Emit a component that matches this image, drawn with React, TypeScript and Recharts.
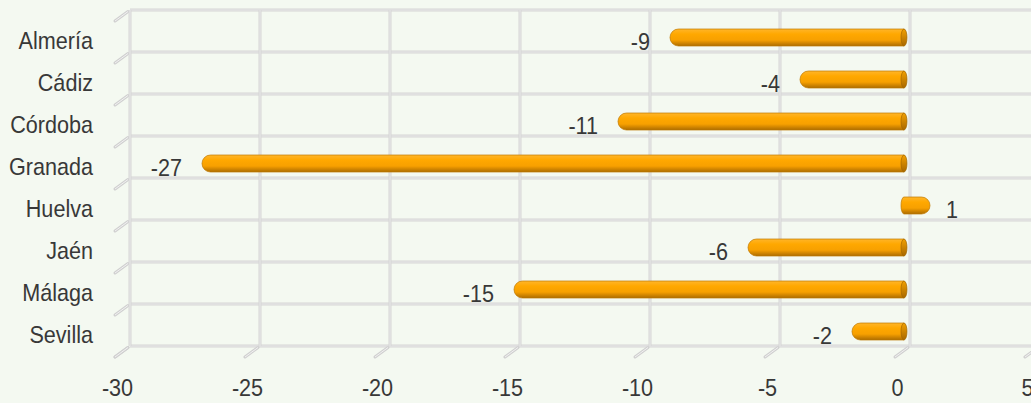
import React from 'react';
import { BarChart, Bar, XAxis, YAxis, CartesianGrid, LabelList } from 'recharts';

const categories = ['Almería', 'Cádiz', 'Córdoba', 'Granada', 'Huelva', 'Jaén', 'Málaga', 'Sevilla'];
const values = [-9, -4, -11, -27, 1, -6, -15, -2];
const xTicks = [-30, -25, -20, -15, -10, -5, 0, 5];

const data = categories.map((name, i) => ({ name, value: values[i] }));

const FONT = '"Liberation Sans", Arial, Helvetica, sans-serif';
const TEXT = '#383838';
const FONT_SIZE = 24;
const SCALE_X = 0.9;
const BAR_H = 17;
const DX = -6;
const DY = 6;

const Label = ({ x, y, anchor, children }: any) => (
  <g transform={`translate(${x},${y}) scale(${SCALE_X},1)`}>
    <text x={0} y={0} textAnchor={anchor} fill={TEXT} fontFamily={FONT} fontSize={FONT_SIZE}>
      {children}
    </text>
  </g>
);

const BarShape = (props: any) => {
  const { x, y, width, height, payload } = props;
  const v = payload?.value ?? 0;
  const r = BAR_H / 2;
  const cap = 3;
  const cy = y + height / 2 + DY;
  const top = cy - r;
  const bot = cy + r;
  const x0 = Math.min(x, x + width) + DX;
  const x1 = Math.max(x, x + width) + DX;
  if (v < 0) {
    const d = `M ${x1} ${top} L ${x0 + r} ${top} A ${r} ${r} 0 0 0 ${x0 + r} ${bot} L ${x1} ${bot} Z`;
    return (
      <g>
        <path d={d} fill="url(#barGrad)" stroke="#bf7800" strokeWidth={0.7} />
        <ellipse cx={x1} cy={cy} rx={cap} ry={r} fill="url(#faceGrad)" stroke="#a06500" strokeWidth={0.7} />
      </g>
    );
  }
  const d = `M ${x0} ${top} L ${x1 - r} ${top} A ${r} ${r} 0 0 1 ${x1 - r} ${bot} L ${x0} ${bot} A ${cap} ${r} 0 0 1 ${x0} ${top} Z`;
  return (
    <g>
      <path d={d} fill="url(#barGrad)" stroke="#bf7800" strokeWidth={0.7} />
    </g>
  );
};

const ValueLabel = (props: any) => {
  const { x, y, width, height, value } = props;
  const v = Number(value);
  const vx = v < 0 ? Math.min(x, x + width) : Math.max(x, x + width);
  const cy = y + height / 2;
  return (
    <Label x={v < 0 ? vx - 26 : vx + 10} y={cy + 18} anchor={v < 0 ? 'end' : 'start'}>
      {v}
    </Label>
  );
};

const YTick = (props: any) => {
  const { x, y, payload } = props;
  return (
    <Label x={x - 37} y={y + 18} anchor="end">
      {payload.value}
    </Label>
  );
};

const XTick = (props: any) => {
  const { x, y, payload } = props;
  return (
    <Label x={x - 12.5} y={y + 50} anchor="middle">
      {payload.value}
    </Label>
  );
};

const gridLine = (x1: number, y1: number, x2: number, y2: number) => (
  <>
    <line x1={x1} y1={y1} x2={x2} y2={y2} stroke="#d6d6d6" strokeWidth={3} />
    <line x1={x1} y1={y1} x2={x2} y2={y2} stroke="#e9e9e9" strokeWidth={1} />
  </>
);

const diag = (gx: number, gy: number) => (
  <>
    <line x1={gx - 15} y1={gy + 11} x2={gx - 2} y2={gy + 1.5} stroke="#d0d0d0" strokeWidth={3} strokeLinecap="round" />
    <line x1={gx - 15} y1={gy + 11} x2={gx - 2} y2={gy + 1.5} stroke="#f2f2f2" strokeWidth={1} />
  </>
);

const HLine = (p: any) => (
  <g key={`h-${p.index ?? p.y1}`}>
    {gridLine(p.x1, p.y1, p.x2, p.y2)}
    {diag(p.x1, p.y1)}
  </g>
);

const VLine = (p: any) => (
  <g key={`v-${p.index ?? p.x1}`}>
    {gridLine(p.x1, p.y1, p.x2, p.y2)}
    {diag(p.x1, Math.max(p.y1, p.y2))}
  </g>
);

export default function App() {
  return (
    <div
      style={{
        position: 'absolute',
        left: 0,
        top: 0,
        width: 1031,
        height: 403,
        overflow: 'hidden',
        background: '#f4f9f1',
      }}
    >
      <BarChart
        width={1060}
        height={403}
        data={data}
        layout="vertical"
        margin={{ top: 10, right: 20, bottom: 0, left: 0 }}
      >
        <defs>
          <linearGradient id="barGrad" x1="0" y1="0" x2="0" y2="1">
            <stop offset="0%" stopColor="#ffb52a" />
            <stop offset="30%" stopColor="#ffa800" />
            <stop offset="65%" stopColor="#f7a000" />
            <stop offset="100%" stopColor="#ad6c00" />
          </linearGradient>
          <linearGradient id="faceGrad" x1="0" y1="0" x2="0" y2="1">
            <stop offset="0%" stopColor="#f2a000" />
            <stop offset="100%" stopColor="#a86800" />
          </linearGradient>
        </defs>
        <CartesianGrid
          horizontalCoordinatesGenerator={(args: any) => {
            const off = args.offset;
            return categories
              .concat([''])
              .map((_, i) => off.top + (i * off.height) / categories.length);
          }}
          horizontal={HLine as any}
          vertical={VLine as any}
        />
        <XAxis
          type="number"
          domain={[xTicks[0], xTicks[xTicks.length - 1]]}
          ticks={xTicks}
          height={57}
          axisLine={false}
          tickLine={false}
          tickSize={0}
          tickMargin={0}
          tick={<XTick />}
          interval={0}
        />
        <YAxis
          type="category"
          dataKey="name"
          width={130}
          axisLine={false}
          tickLine={false}
          tickSize={0}
          tickMargin={0}
          tick={<YTick />}
          interval={0}
        />
        <Bar dataKey="value" barSize={BAR_H} shape={<BarShape />} isAnimationActive={false}>
          <LabelList dataKey="value" content={<ValueLabel />} />
        </Bar>
      </BarChart>
    </div>
  );
}
